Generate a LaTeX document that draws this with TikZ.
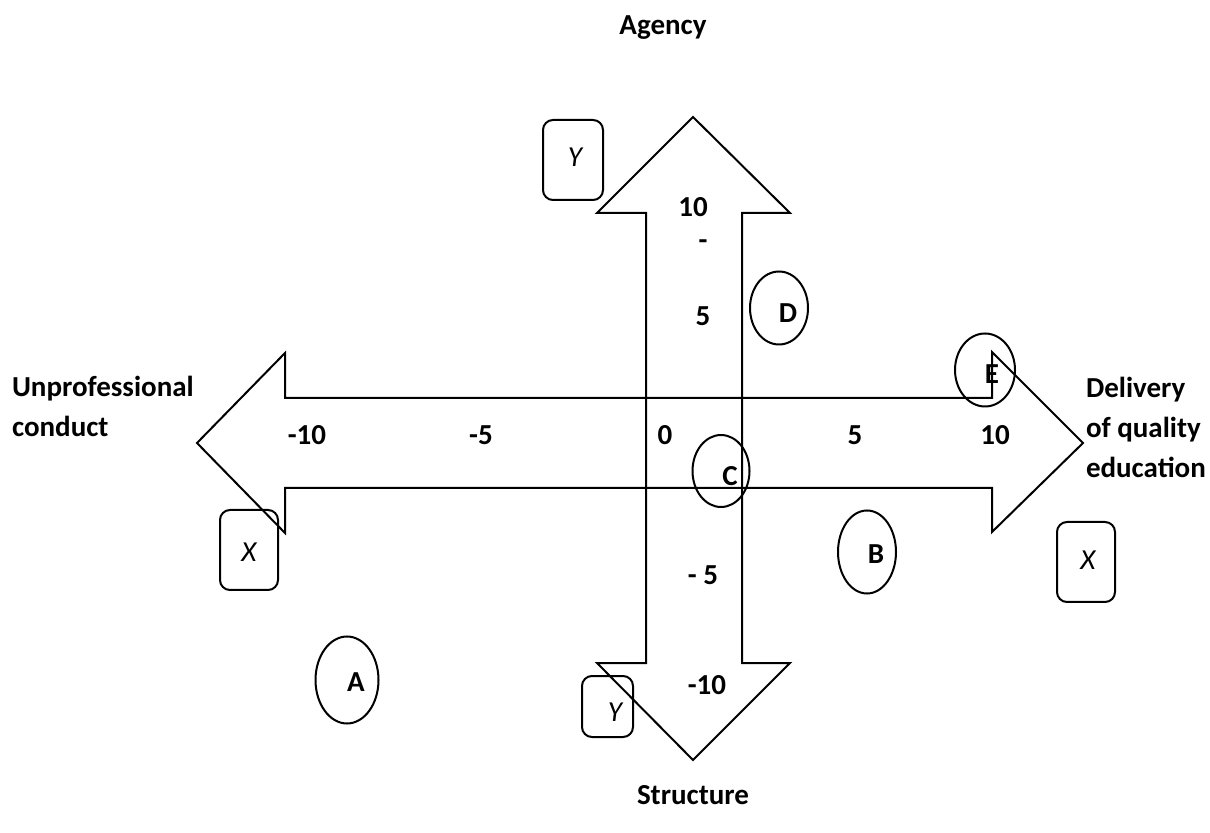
\documentclass[tikz,border=0pt]{standalone}
\usepackage{fontspec}
\setmainfont{Carlito}
\usetikzlibrary{shapes.geometric,positioning}

\begin{document}
\begin{tikzpicture}[x=0.5pt,y=-0.5pt,line width=1pt,
                    every node/.style={font=\fontsize{14.5}{20}\selectfont\bfseries},
                    spot/.style={ellipse,draw,inner sep=0pt},
                    tag/.style={draw,rounded corners=5pt,inner sep=0pt,font=\fontsize{14.5}{20}\selectfont\itshape}]
                            \useasboundingbox (0,0) rectangle (1210,833);

                            % the two double arrows
                            \draw (197,443) -- (285,353) -- (285,398) -- (992,398) -- (992,352) -- (1083,443)
                                  -- (992,532) -- (992,488) -- (285,488) -- (285,533) -- cycle;
                            \draw (693,117) -- (790,213) -- (742,213) -- (742,663) -- (790,663) -- (693,760)
                                  -- (597,663) -- (646,663) -- (646,213) -- (597,213) -- cycle;

                            % axis names
                            \node (agency)    at (663,28)  {Agency};
                            \node (structure) at (693,795) {Structure};
                            \node[align=left,anchor=west,inner sep=0pt] (unprof)   at (11,406)   {Unprofessional\\conduct};
                            \node[align=left,anchor=west,inner sep=0pt] (delivery) at (1085,427) {Delivery\\of quality\\education};

                            % scale
                            \node (h-10) at (307,435) {-10};
                            \node (h-5)  at (481,435) {-5};
                            \node (h0)   at (665,435) {0};
                            \node (h5)   at (855,435) {5};
                            \node (h10)  at (995,435) {10};
                            \node (v10)  at (693,207) {10};
                            \node (vdash) at (703,245) {-};
                            \node (v5)   at (703,316) {5};
                            \node (v-5)  at (703,575) {- 5};
                            \node (v-10) at (707,685) {-10};

                            % positions
                            \node[spot,minimum width=31.5pt,minimum height=43.5pt] (A) at (347,680) {};
                            \node[spot,minimum width=29pt,minimum height=41.5pt]   (B) at (867,552) {};
                            \node[spot,minimum width=28.5pt,minimum height=36pt]   (C) at (721,471) {};
                            \node[spot,minimum width=29pt,minimum height=36.5pt]   (D) at (779,308) {};
                            \node[spot,minimum width=30pt,minimum height=36.5pt]   (E) at (985,370) {};
                            \node (A-l) at (356,682) {A};
                            \node (B-l) at (876,554) {B};
                            \node (C-l) at (730,476) {C};
                            \node (D-l) at (788,313) {D};
                            \node (E-l) at (992,374) {E};

                            % boxes
                            \node[tag,minimum width=30pt,minimum height=40pt]     (Ytop) at (573,160)     {};
                            \node[tag,minimum width=25.5pt,minimum height=30.5pt] (Ybot) at (607.5,706.5) {};
                            \node[tag,minimum width=29pt,minimum height=40pt]     (Xr)   at (1086,562)    {};
                            \node[tag,minimum width=29pt,minimum height=40pt]     (Xl)   at (249,550)     {};
                            \node[tag,draw=none] (Ytop-l) at (575,157) {Y};
                            \node[tag,draw=none] (Ybot-l) at (615,712) {Y};
                            \node[tag,draw=none] (Xr-l)   at (1088,560) {X};
                            \node[tag,draw=none] (Xl-l)   at (249,552) {X};
                        \end{tikzpicture}
\end{document}
